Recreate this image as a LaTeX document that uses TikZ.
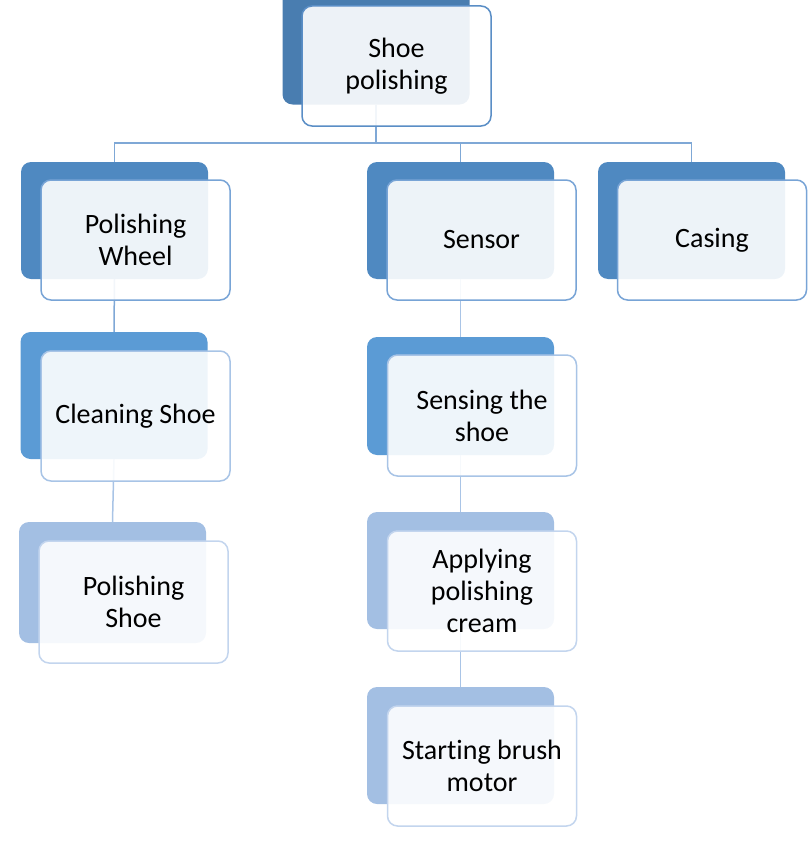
\documentclass[tikz,border=0pt]{standalone}
\usepackage{fontspec}
\setmainfont[Ligatures=NoCommon]{Carlito}

\definecolor{topblue}{HTML}{497DB0}
\definecolor{levelone}{HTML}{4F89C1}
\definecolor{leveltwo}{HTML}{5B9BD5}
\definecolor{levelthree}{HTML}{A3BFE3}
\definecolor{rimtop}{HTML}{5A8EC6}
\definecolor{rimone}{HTML}{78A4D6}
\definecolor{rimtwo}{HTML}{A8C4E6}
\definecolor{rimthree}{HTML}{C3D5EE}
\definecolor{linkblue}{HTML}{7FA8D6}
\definecolor{linklight}{HTML}{A9C4E6}

\tikzset{
  back/.style={rounded corners=10pt, minimum width=187pt, minimum height=117pt, inner sep=0pt},
  front/.style={draw, line width=1.5pt, rounded corners=10pt, fill=white, fill opacity=0.9,
    text opacity=1, minimum width=189pt, minimum height=120pt, inner sep=0pt,
    align=center, font=\fontsize{28}{32}\selectfont},
  link/.style={line width=1.5pt, linkblue}
}

\begin{document}
\begin{tikzpicture}[x=1pt,y=-1pt]
            \useasboundingbox (0,0) rectangle (809,867);

            % back boxes
            \node[back,fill=topblue] (shoeB) at (376,46) {};
            \node[back,fill=levelone] (wheelB) at (114.5,220.5) {};
            \node[back,fill=levelone] (sensorB) at (460.5,220.5) {};
            \node[back,fill=levelone] (casingB) at (691.5,220.5) {};
            \node[back,fill=leveltwo,minimum height=127pt] (cleanB) at (114,395.5) {};
            \node[back,fill=levelthree,minimum height=121pt] (polishB) at (112.5,582.5) {};
            \node[back,fill=leveltwo,minimum height=118pt] (senseB) at (460.5,396) {};
            \node[back,fill=levelthree] (creamB) at (460.5,570.5) {};
            \node[back,fill=levelthree] (motorB) at (460.5,745.5) {};

            % connectors
            \coordinate (bus) at (376,143);
            \draw[link] (shoeB.south) -- (bus);
            \draw[link] (wheelB.north) |- (bus);
            \draw[link] (sensorB.north) |- (bus);
            \draw[link] (casingB.north) |- (bus);
            \draw[link] (wheelB.south) -- (cleanB.north);
            \draw[link,linklight] (cleanB.south) -- (polishB.north);
            \draw[link,linklight] (sensorB.south) -- (senseB.north);
            \draw[link,linklight] (senseB.south) -- (creamB.north);
            \draw[link,linklight] (creamB.south) -- (motorB.north);

            % front boxes
            \node[front,draw=rimtop] (shoe) at (396.5,66) {Shoe\\polishing};
            \node[front,draw=rimone] (wheel) at (135.5,240) {Polishing\\Wheel};
            \node[front,draw=rimone] (sensor) at (481.5,240) {Sensor};
            \node[front,draw=rimone] (casing) at (712,240) {Casing};
            \node[front,draw=rimtwo,minimum height=130pt] (clean) at (135.5,416) {Cleaning Shoe};
            \node[front,draw=rimthree,minimum height=122pt] (polish) at (133.5,602) {Polishing\\Shoe};
            \node[front,draw=rimtwo,minimum height=121pt] (sense) at (482,415.5) {Sensing the\\shoe};
            \node[front,draw=rimthree] (cream) at (482,591) {Applying\\polishing\\cream};
            \node[front,draw=rimthree] (motor) at (482,766) {Starting brush\\motor};
\end{tikzpicture}
\end{document}
